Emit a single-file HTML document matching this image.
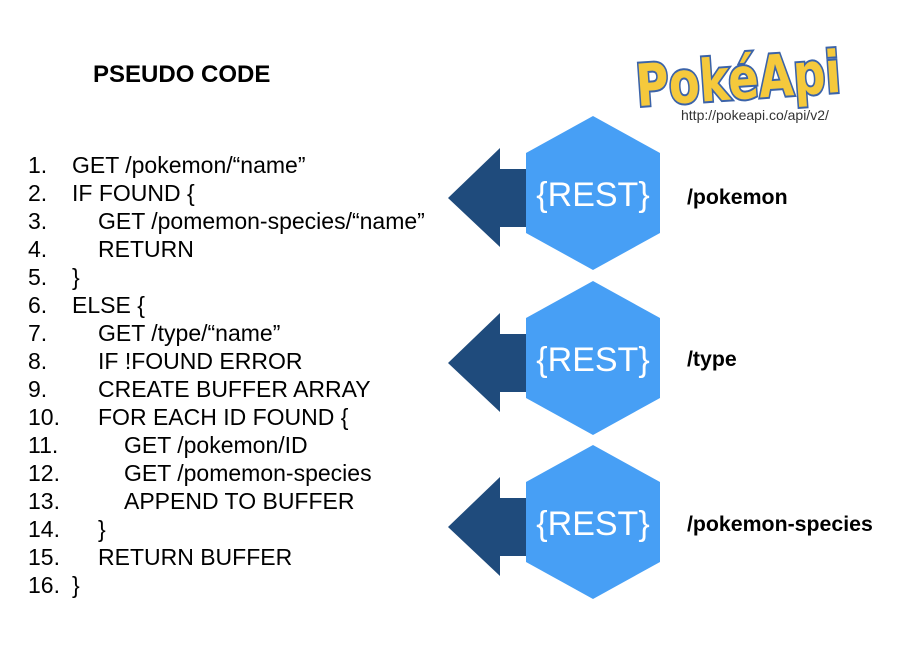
<!DOCTYPE html>
<html><head><style>
body{margin:0;background:#fff;}
svg{display:block}
</style></head><body>
<svg width="910" height="653" viewBox="0 0 910 653" xmlns="http://www.w3.org/2000/svg">
<defs>
<g id="unit">
<polygon points="448,198 500,148 500,169 530,169 530,227 500,227 500,247" fill="#1f4b7c"/>
<polygon points="593,116 660,153 660,233 593,270 526,233 526,153" fill="#479ff5"/>
</g>
</defs>
<use href="#unit"/>
<use href="#unit" y="165"/>
<use href="#unit" y="329"/>
<g font-family="Liberation Sans, sans-serif" fill="#fff" font-size="34" text-anchor="middle">
<text x="593" y="206">{REST}</text>
<text x="593" y="371">{REST}</text>
<text x="593" y="535">{REST}</text>
</g>
<g font-family="Liberation Sans, sans-serif" font-weight="bold" font-size="21.3" fill="#000">
<text x="93" y="82" font-size="24">PSEUDO CODE</text>
<text x="687" y="204">/pokemon</text>
<text x="687" y="366">/type</text>
<text x="687" y="531">/pokemon-species</text>
</g>
<g font-family="Liberation Sans, sans-serif" font-size="23" fill="#000">
<text x="28" y="173">1.</text><text x="72" y="173">GET /pokemon/“name”</text>
<text x="28" y="201">2.</text><text x="72" y="201">IF FOUND {</text>
<text x="28" y="229">3.</text><text x="98" y="229">GET /pomemon-species/“name”</text>
<text x="28" y="257">4.</text><text x="98" y="257">RETURN</text>
<text x="28" y="285">5.</text><text x="72" y="285">}</text>
<text x="28" y="313">6.</text><text x="72" y="313">ELSE {</text>
<text x="28" y="341">7.</text><text x="98" y="341">GET /type/“name”</text>
<text x="28" y="369">8.</text><text x="98" y="369">IF !FOUND ERROR</text>
<text x="28" y="397">9.</text><text x="98" y="397">CREATE BUFFER ARRAY</text>
<text x="28" y="425">10.</text><text x="98" y="425">FOR EACH ID FOUND {</text>
<text x="28" y="453">11.</text><text x="124" y="453">GET /pokemon/ID</text>
<text x="28" y="481">12.</text><text x="124" y="481">GET /pomemon-species</text>
<text x="28" y="509">13.</text><text x="124" y="509">APPEND TO BUFFER</text>
<text x="28" y="537">14.</text><text x="98" y="537">}</text>
<text x="28" y="565">15.</text><text x="98" y="565">RETURN BUFFER</text>
<text x="28" y="593">16.</text><text x="72" y="593">}</text>
</g>
<text x="738" y="99" text-anchor="middle" font-family="DejaVu Sans, sans-serif" font-weight="bold" font-size="58" fill="#f5c93c" stroke="#3b63a9" stroke-width="4" paint-order="stroke" transform="rotate(-4 738 76)" textLength="205" lengthAdjust="spacingAndGlyphs">PokéApi</text>
<text x="681" y="120" font-family="Liberation Sans, sans-serif" font-size="14" fill="#333">http://pokeapi.co/api/v2/</text>
</svg>
</body></html>
